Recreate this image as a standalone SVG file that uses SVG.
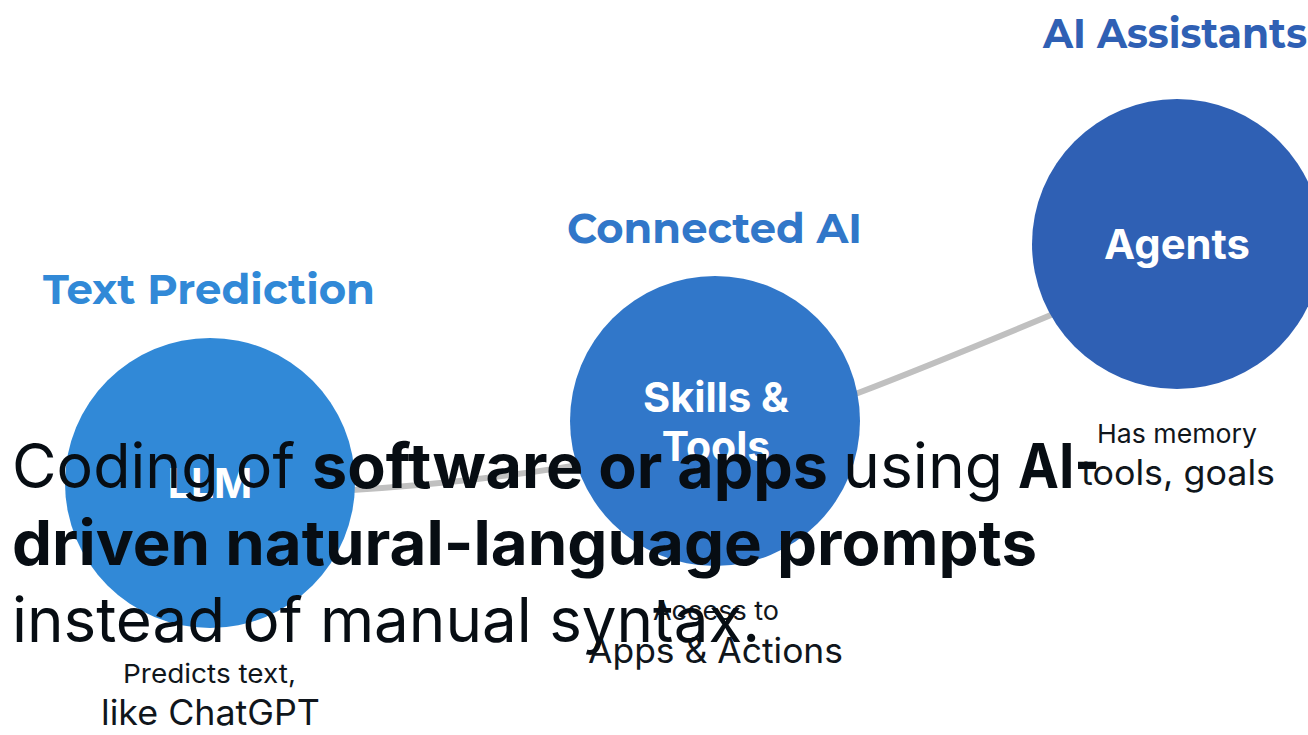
<svg xmlns="http://www.w3.org/2000/svg" width="1308" height="735" viewBox="0 0 1308 735">
<style>
.hdr{font-family:"Montserrat","Inter","Liberation Sans",sans-serif;font-weight:700;font-size:42px}
.lbl{font-family:"Inter","Liberation Sans",sans-serif;font-weight:700;font-size:41px;fill:#ffffff;text-anchor:middle}
.sub1{font-family:"Inter","Liberation Sans",sans-serif;font-size:26px;fill:#10161c}
.sub2{font-family:"Inter","Liberation Sans",sans-serif;font-size:35px;fill:#10161c}
.body{font-family:"Inter","Liberation Sans",sans-serif;font-size:62px;fill:#070d13}
.b{font-weight:700}
.conn{fill:none;stroke:#c0c0c0;stroke-width:6;stroke-linecap:round}
</style>
<rect width="1308" height="735" fill="#ffffff"/>
<g id="connectors">
<path class="conn" d="M210 495 C450 493 680 460 858 393 Q960 354 1177 262"/>
</g>
<g id="node-llm">
<text class="hdr" x="43" y="304" fill="#3189d7" textLength="332" lengthAdjust="spacingAndGlyphs">Text Prediction</text>
<circle cx="210" cy="483" r="145" fill="#3189d7"/>
<text class="lbl" x="210" y="498">LLM</text>
<text class="sub1" x="123" y="683" textLength="173" lengthAdjust="spacingAndGlyphs">Predicts text,</text>
<text class="sub2" x="101" y="725" textLength="219" lengthAdjust="spacingAndGlyphs">like ChatGPT</text>
</g>
<g id="node-skills">
<text class="hdr" x="567" y="243" fill="#3177c9" textLength="295" lengthAdjust="spacingAndGlyphs">Connected AI</text>
<circle cx="715" cy="421" r="145" fill="#3177c9"/>
<text class="lbl" x="716" y="412" textLength="146" lengthAdjust="spacingAndGlyphs">Skills &amp;</text>
<text class="lbl" x="716" y="461">Tools</text>
<text class="sub1" x="653" y="620" textLength="126" lengthAdjust="spacingAndGlyphs">Access to</text>
<text class="sub2" x="588" y="663" textLength="255" lengthAdjust="spacingAndGlyphs">Apps &amp; Actions</text>
</g>
<g id="node-agents">
<text class="hdr" x="1043" y="48" fill="#2f60b4" textLength="264" lengthAdjust="spacingAndGlyphs">AI Assistants</text>
<circle cx="1177" cy="244" r="145" fill="#2f60b4"/>
<text class="lbl" x="1177" y="259" textLength="146" lengthAdjust="spacingAndGlyphs">Agents</text>
<text class="sub1" x="1097" y="443" textLength="160" lengthAdjust="spacingAndGlyphs">Has memory</text>
<text class="sub2" x="1081" y="485" textLength="194" lengthAdjust="spacingAndGlyphs">tools, goals</text>
</g>
<g id="caption">
<text class="body" y="488"><tspan x="12" textLength="283" lengthAdjust="spacingAndGlyphs">Coding of</tspan><tspan class="b" x="312" textLength="516" lengthAdjust="spacingAndGlyphs">software or apps</tspan><tspan x="843" textLength="160" lengthAdjust="spacingAndGlyphs">using</tspan><tspan class="b" x="1018" textLength="82" lengthAdjust="spacingAndGlyphs">AI-</tspan></text>
<text class="body b" x="12" y="565" textLength="1025" lengthAdjust="spacingAndGlyphs">driven natural-language prompts</text>
<text class="body" x="12" y="642" textLength="748" lengthAdjust="spacingAndGlyphs">instead of manual syntax.</text>
</g>
</svg>
